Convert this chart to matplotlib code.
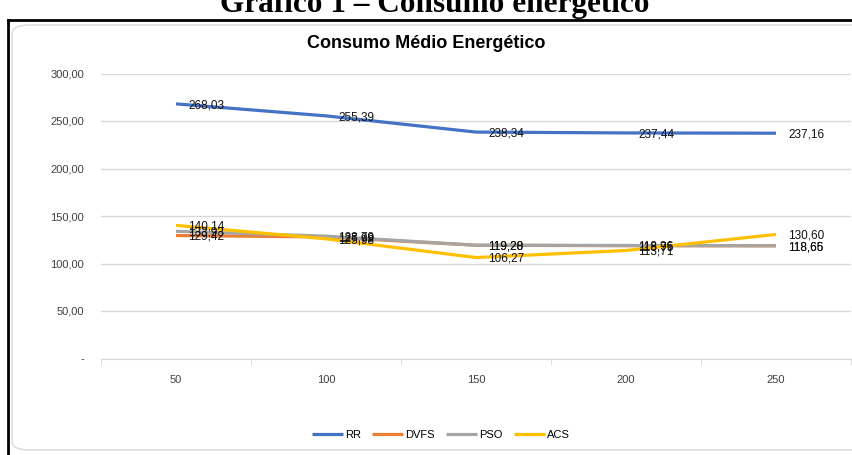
import matplotlib
matplotlib.use("Agg")
import matplotlib.pyplot as plt
from matplotlib.patches import FancyBboxPatch
from matplotlib.ticker import FuncFormatter, MultipleLocator

# dados do gráfico
categorias = ["50", "100", "150", "200", "250"]
rr = [268.03, 255.39, 238.34, 237.44, 237.16]
dvfs = [129.42, 127.99, 119.20, 118.75, 118.65]
pso = [133.93, 128.79, 119.28, 118.96, 118.66]
acs = [140.14, 125.98, 106.27, 113.71, 130.60]

series = [("RR", rr, "#4472C4"), ("DVFS", dvfs, "#ED7D31"),
          ("PSO", pso, "#A5A5A5"), ("ACS", acs, "#FFC000")]

plt.rcParams['font.family'] = ['Liberation Sans Narrow', 'Liberation Sans', 'DejaVu Sans']

W, H = 852, 455
fig = plt.figure(figsize=(W / 100, H / 100), dpi=100)

# título do documento (cortado no topo)
fig.text(435 / W, 1 - 12 / H, "Gráfico 1 – Consumo energético", ha="center", va="baseline",
         fontsize=22.5, fontweight="bold", family=["Liberation Serif", "DejaVu Serif"])

# moldura preta e área do gráfico
fig.add_artist(FancyBboxPatch((12 / W, 5 / H), (W + 20) / W, (H - 30) / H,
                              boxstyle="round,pad=0,rounding_size=0.02",
                              transform=fig.transFigure, fc="white", ec="#d9d9d9", lw=1,
                              zorder=-2))
fig.add_artist(plt.Line2D([8 / W, 8 / W], [0, 1 - 20 / H], color="black", lw=2))
fig.add_artist(plt.Line2D([8 / W, 1], [1 - 20 / H, 1 - 20 / H], color="black", lw=2))

fig.text(426 / W, 1 - 43 / H, "Consumo Médio Energético", ha="center", va="center",
         fontsize=13, fontweight="bold", color="#000000")

ax = fig.add_axes([101 / W, (H - 358.5) / H, 750 / W, 285 / H])
ax.patch.set_alpha(0)
x = list(range(len(categorias)))
for nome, vals, cor in series:
    ax.plot(x, vals, color=cor, lw=2.3, label=nome, solid_capstyle="butt")
for nome, vals, cor in series:
    for xi, v in zip(x, vals):
        ax.annotate(f"{v:.2f}".replace(".", ","), (xi, v), xytext=(9, -1),
                    textcoords="offset points", va="center", ha="left",
                    fontsize=8.5, color="#111111")

ax.set_xlim(-0.5, 4.5)
ax.set_ylim(0, 300)
ax.yaxis.set_major_locator(MultipleLocator(50))
ax.yaxis.set_major_formatter(FuncFormatter(
    lambda v, p: "-" if v == 0 else f"{v:.2f}".replace(".", ",")))
ax.set_xticks(x)
ax.set_xticklabels(categorias)
ax.set_xticks([i - 0.5 for i in range(len(categorias) + 1)], minor=True)
ax.tick_params(axis="x", which="major", length=0, pad=12, labelsize=8, colors="#404040")
ax.tick_params(axis="x", which="minor", length=4, color="#d9d9d9")
ax.tick_params(axis="y", length=0, pad=12, labelsize=8, colors="#404040")
ax.grid(axis="y", color="#d9d9d9", lw=1)
ax.set_axisbelow(True)
for s in ["top", "right", "left"]:
    ax.spines[s].set_visible(False)
ax.spines["bottom"].set_color("#d9d9d9")

leg = fig.legend(loc="center", bbox_to_anchor=(441 / W, 1 - 435 / H), ncol=4, frameon=False,
                 fontsize=8, handlelength=2.8, columnspacing=1.0, handletextpad=0.2)

fig.savefig("out.png", dpi=100)
